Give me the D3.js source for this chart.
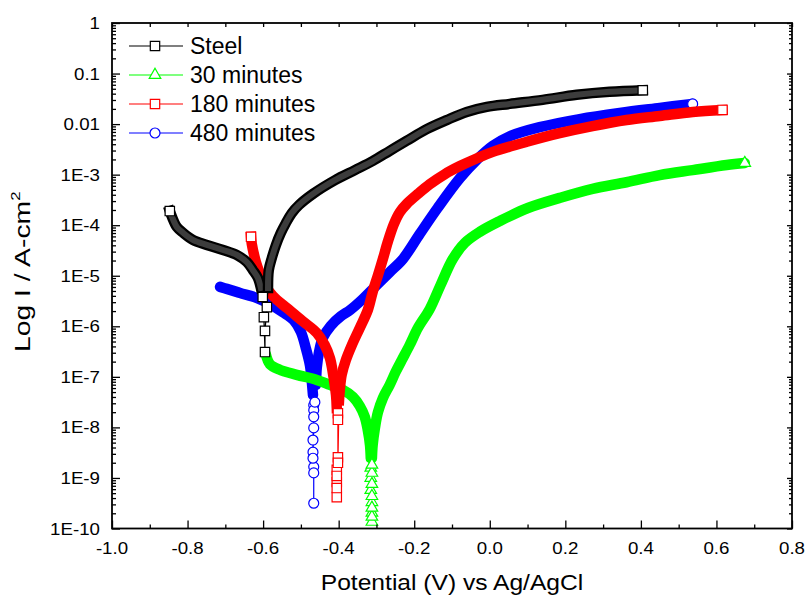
<!DOCTYPE html>
<html>
<head>
<meta charset="utf-8">
<script src="https://cdn.jsdelivr.net/npm/d3@7"></script>
<style>
  body { margin: 0; background: #fff; }
  svg { display: block; }
  text { font-family: "Liberation Sans", Arial, sans-serif; fill: #000; }
</style>
</head>
<body>
<svg id="chart" width="806" height="597"></svg>
<script>
// legend / series names
const seriesNames = ["Steel", "30 minutes", "180 minutes", "480 minutes"];

// axis ticks
const xTickValues = [-1.0, -0.8, -0.6, -0.4, -0.2, 0.0, 0.2, 0.4, 0.6, 0.8];
const xTickLabels = ["-1.0", "-0.8", "-0.6", "-0.4", "-0.2", "0.0", "0.2", "0.4", "0.6", "0.8"];
const xMinorValues = [-0.9, -0.7, -0.5, -0.3, -0.1, 0.1, 0.3, 0.5, 0.7];
const yTickValues = [1e-10, 1e-9, 1e-8, 1e-7, 1e-6, 1e-5, 1e-4, 1e-3, 1e-2, 1e-1, 1];
const yTickLabels = ["1E-10", "1E-9", "1E-8", "1E-7", "1E-6", "1E-5", "1E-4", "1E-3", "0.01", "0.1", "1"];

// data points: [potential (V), log10 I (A/cm2)]
// each curve: cathodic branch (dense), sparse points near Ecorr, anodic branch (dense)
const steelCathodic = [[-0.847,-3.72],[-0.841,-3.84],[-0.828,-4.04],[-0.812,-4.15],[-0.786,-4.29],[-0.749,-4.39],
  [-0.706,-4.49],[-0.669,-4.59],[-0.643,-4.73],[-0.627,-4.89],[-0.614,-5.04],[-0.606,-5.24]];
const steelTail = [[-0.601,-5.42],[-0.598,-5.82],[-0.595,-6.51],[-0.595,-6.09],[-0.590,-5.62]];
const steelAnodic = [[-0.587,-5.24],[-0.585,-4.89],[-0.577,-4.65],[-0.566,-4.39],[-0.553,-4.15],[-0.540,-3.96],
  [-0.524,-3.76],[-0.505,-3.60],[-0.468,-3.38],[-0.410,-3.11],[-0.357,-2.91],[-0.310,-2.73],[-0.265,-2.53],
  [-0.220,-2.33],[-0.167,-2.10],[-0.114,-1.92],[-0.061,-1.76],[-0.008,-1.66],[0.053,-1.60],[0.140,-1.52],
  [0.230,-1.42],[0.317,-1.36],[0.405,-1.33]];

const min30Cathodic = [[-0.593,-6.55],[-0.582,-6.75],[-0.556,-6.86],[-0.511,-6.96],[-0.458,-7.06],[-0.423,-7.16],
  [-0.389,-7.26],[-0.362,-7.40],[-0.344,-7.58],[-0.331,-7.79],[-0.323,-8.05],[-0.317,-8.35],[-0.315,-8.61]];
const min30Tail = [[-0.315,-8.80],[-0.315,-9.00],[-0.315,-9.24],[-0.312,-9.48],[-0.312,-9.69],[-0.312,-9.87],
  [-0.312,-9.77],[-0.312,-9.59],[-0.312,-9.36],[-0.312,-9.12],[-0.312,-8.90],[-0.312,-8.74]];
const min30Anodic = [[-0.312,-8.61],[-0.310,-8.35],[-0.304,-8.01],[-0.296,-7.70],[-0.283,-7.42],[-0.265,-7.16],
  [-0.249,-6.90],[-0.233,-6.67],[-0.212,-6.37],[-0.190,-6.03],[-0.159,-5.66],[-0.130,-5.18],[-0.098,-4.67],
  [-0.066,-4.35],[-0.026,-4.13],[0.026,-3.92],[0.101,-3.66],[0.185,-3.46],[0.272,-3.28],[0.362,-3.15],
  [0.450,-3.01],[0.537,-2.91],[0.627,-2.81],[0.675,-2.77]];

const min180Cathodic = [[-0.632,-4.23],[-0.630,-4.37],[-0.619,-4.73],[-0.608,-4.97],[-0.598,-5.16],[-0.574,-5.40],
  [-0.537,-5.64],[-0.495,-5.90],[-0.458,-6.13],[-0.437,-6.37],[-0.423,-6.63],[-0.415,-6.94],[-0.407,-7.36],[-0.405,-7.62]];
const min180Tail = [[-0.402,-7.72],[-0.402,-7.85],[-0.402,-8.59],[-0.405,-8.84],[-0.405,-9.08],[-0.405,-9.38],
  [-0.405,-9.20],[-0.405,-8.96],[-0.402,-8.70]];
const min180Anodic = [[-0.399,-7.46],[-0.397,-7.26],[-0.392,-6.96],[-0.381,-6.67],[-0.365,-6.37],[-0.344,-6.03],
  [-0.323,-5.68],[-0.310,-5.32],[-0.296,-4.99],[-0.283,-4.67],[-0.270,-4.33],[-0.254,-3.98],[-0.238,-3.74],
  [-0.220,-3.58],[-0.190,-3.38],[-0.159,-3.19],[-0.119,-2.99],[-0.079,-2.83],[-0.032,-2.67],[0.008,-2.55],
  [0.098,-2.35],[0.185,-2.18],[0.272,-2.04],[0.362,-1.92],[0.450,-1.84],[0.537,-1.76],[0.616,-1.72]];

const min480Cathodic = [[-0.714,-5.22],[-0.696,-5.26],[-0.661,-5.34],[-0.616,-5.44],[-0.582,-5.56],[-0.548,-5.72],
  [-0.519,-5.88],[-0.500,-6.11],[-0.487,-6.43],[-0.476,-6.77],[-0.471,-7.10],[-0.468,-7.36]];
const min480Tail = [[-0.466,-7.56],[-0.466,-7.66],[-0.466,-8.01],[-0.468,-8.49],[-0.466,-8.78],[-0.466,-9.50],
  [-0.466,-8.90],[-0.468,-8.61],[-0.468,-8.25],[-0.466,-7.79],[-0.463,-7.50]];
const min480Anodic = [[-0.460,-7.16],[-0.458,-6.82],[-0.452,-6.51],[-0.442,-6.23],[-0.421,-5.99],[-0.394,-5.80],
  [-0.370,-5.68],[-0.339,-5.48],[-0.304,-5.22],[-0.265,-4.93],[-0.230,-4.67],[-0.185,-4.17],[-0.138,-3.66],
  [-0.079,-3.07],[-0.032,-2.69],[0.008,-2.43],[0.053,-2.24],[0.132,-2.06],[0.238,-1.90],[0.344,-1.78],
  [0.450,-1.68],[0.537,-1.60]];

const series = [
  { name: seriesNames[0], color: "#000000", symbol: d3.symbolSquare, size: 88, cap: "square",
    cath: steelCathodic, tail: steelTail, anod: steelAnodic, startMark: true },
  { name: seriesNames[1], color: "#00ff00", symbol: d3.symbolTriangle, size: 58, cap: "round",
    cath: min30Cathodic, tail: min30Tail, anod: min30Anodic, startMark: false },
  { name: seriesNames[2], color: "#ff0000", symbol: d3.symbolSquare, size: 88, cap: "square",
    cath: min180Cathodic, tail: min180Tail, anod: min180Anodic, startMark: true },
  { name: seriesNames[3], color: "#0000ff", symbol: d3.symbolCircle, size: 78, cap: "round",
    cath: min480Cathodic, tail: min480Tail, anod: min480Anodic, startMark: false },
];

const svg = d3.select("#chart");
const x = d3.scaleLinear().domain([-1.0, 0.8]).range([112, 792]);
const y = d3.scaleLog().domain([1e-10, 1]).range([528.5, 23]);
const px = (d) => x(d[0]);
const py = (d) => y(Math.pow(10, d[1]));

const smooth = d3.line().x(px).y(py).curve(d3.curveCatmullRom.alpha(0.5));
const straight = d3.line().x(px).y(py);

// curves, drawn back to front
const drawOrder = [3, 1, 2, 0];
const plot = svg.append("g");
drawOrder.forEach((i) => {
  const s = series[i];
  const g = plot.append("g");
  // thin connecting line through sparse points
  g.append("path")
    .attr("d", straight([s.cath[s.cath.length - 1], ...s.tail, s.anod[0]]))
    .attr("fill", "none")
    .attr("stroke", s.color)
    .attr("stroke-width", 1.2);
  // dense branches = overlapping markers
  [s.cath, s.anod].forEach((branch) => {
    g.append("path")
      .attr("d", smooth(branch))
      .attr("fill", "none")
      .attr("stroke", s.color)
      .attr("stroke-width", 10.5)
      .attr("stroke-linecap", s.cap)
      .attr("stroke-linejoin", "round");
    if (i === 0) {
      g.append("path")
        .attr("d", smooth(branch))
        .attr("fill", "none")
        .attr("stroke", "#3c3c3c")
        .attr("stroke-width", 6)
        .attr("stroke-linecap", "square")
        .attr("stroke-linejoin", "round");
    }
  });
  const marks = [...s.tail, s.anod[s.anod.length - 1]];
  if (s.startMark) marks.push(s.cath[0]);
  g.selectAll("path.mark")
    .data(marks)
    .enter()
    .append("path")
    .attr("class", "mark")
    .attr("d", d3.symbol().type(s.symbol).size(s.size))
    .attr("transform", (d) => `translate(${px(d)},${py(d)})`)
    .attr("fill", "#fff")
    .attr("stroke", s.color)
    .attr("stroke-width", 1.2);
});

// axes (ticks pointing inward)
const axisG = svg.append("g");
const yBottom = y.range()[0], yTop = y.range()[1];
const xLeft = x.range()[0], xRight = x.range()[1];

axisG.append("g").attr("transform", `translate(0,${yBottom})`)
  .call(d3.axisBottom(x).tickValues(xTickValues).tickSize(-8).tickFormat(""));
axisG.append("g").attr("transform", `translate(0,${yBottom})`)
  .call(d3.axisBottom(x).tickValues(xMinorValues).tickSize(-4).tickFormat(""));
axisG.append("g").attr("transform", `translate(0,${yTop})`)
  .call(d3.axisTop(x).tickValues(xTickValues.concat(xMinorValues)).tickSize(-4).tickFormat(""));

const yMinor = [];
yTickValues.slice(0, -1).forEach((d) => { for (let m = 2; m < 10; m++) yMinor.push(d * m); });

axisG.append("g").attr("transform", `translate(${xLeft},0)`)
  .call(d3.axisLeft(y).tickValues(yTickValues).tickSize(-8).tickFormat(""));
axisG.append("g").attr("transform", `translate(${xLeft},0)`)
  .call(d3.axisLeft(y).tickValues(yMinor).tickSize(-4).tickFormat(""));
axisG.append("g").attr("transform", `translate(${xRight},0)`)
  .call(d3.axisRight(y).tickValues(yTickValues).tickSize(-5).tickFormat(""));
axisG.append("g").attr("transform", `translate(${xRight},0)`)
  .call(d3.axisRight(y).tickValues(yMinor).tickSize(-3).tickFormat(""));

axisG.selectAll(".domain").remove();
axisG.selectAll(".tick line").attr("stroke", "#000").attr("stroke-width", 1.3);

svg.append("rect")
  .attr("x", xLeft).attr("y", yTop)
  .attr("width", xRight - xLeft).attr("height", yBottom - yTop)
  .attr("fill", "none").attr("stroke", "#000").attr("stroke-width", 1.8);

// tick labels (slightly wide lettering as in the figure)
svg.append("g").selectAll("g")
  .data(xTickValues)
  .enter().append("g")
  .attr("transform", (d) => `translate(${x(d)},${yBottom + 25.5}) scale(1.1,1)`)
  .append("text")
  .attr("text-anchor", "middle")
  .attr("font-size", 17)
  .text((d, i) => xTickLabels[i]);

svg.append("g").selectAll("g")
  .data(yTickValues)
  .enter().append("g")
  .attr("transform", (d) => `translate(${xLeft - 12},${y(d) + 6}) scale(1.1,1)`)
  .append("text")
  .attr("text-anchor", "end")
  .attr("font-size", 17)
  .text((d, i) => yTickLabels[i]);

// axis titles
svg.append("g")
  .attr("transform", `translate(${(xLeft + xRight) / 2},${590}) scale(1.15,1)`)
  .append("text")
  .attr("text-anchor", "middle")
  .attr("font-size", 21.4)
  .text("Potential (V) vs Ag/AgCl");

const yTitle = svg.append("g")
  .attr("transform", `translate(30,${(yTop + yBottom) / 2 - 4}) rotate(-90) scale(1.35,1.08)`)
  .append("text")
  .attr("text-anchor", "middle")
  .attr("font-size", 21);
yTitle.append("tspan").text("Log I / A-cm");
yTitle.append("tspan").attr("font-size", 12.5).attr("dy", -9).text("2");

// legend
const legend = svg.append("g");
series.forEach((s, i) => {
  const ly = 46 + i * 29;
  legend.append("line")
    .attr("x1", 129).attr("x2", 183).attr("y1", ly).attr("y2", ly)
    .attr("stroke", s.color).attr("stroke-width", 1.2);
  legend.append("path")
    .attr("d", d3.symbol().type(s.symbol).size(s.size)())
    .attr("transform", `translate(155,${ly})`)
    .attr("fill", "#fff").attr("stroke", s.color).attr("stroke-width", 1.2);
  legend.append("text")
    .attr("x", 190).attr("y", ly + 8)
    .attr("font-size", 23)
    .text(s.name);
});
</script>
</body>
</html>
